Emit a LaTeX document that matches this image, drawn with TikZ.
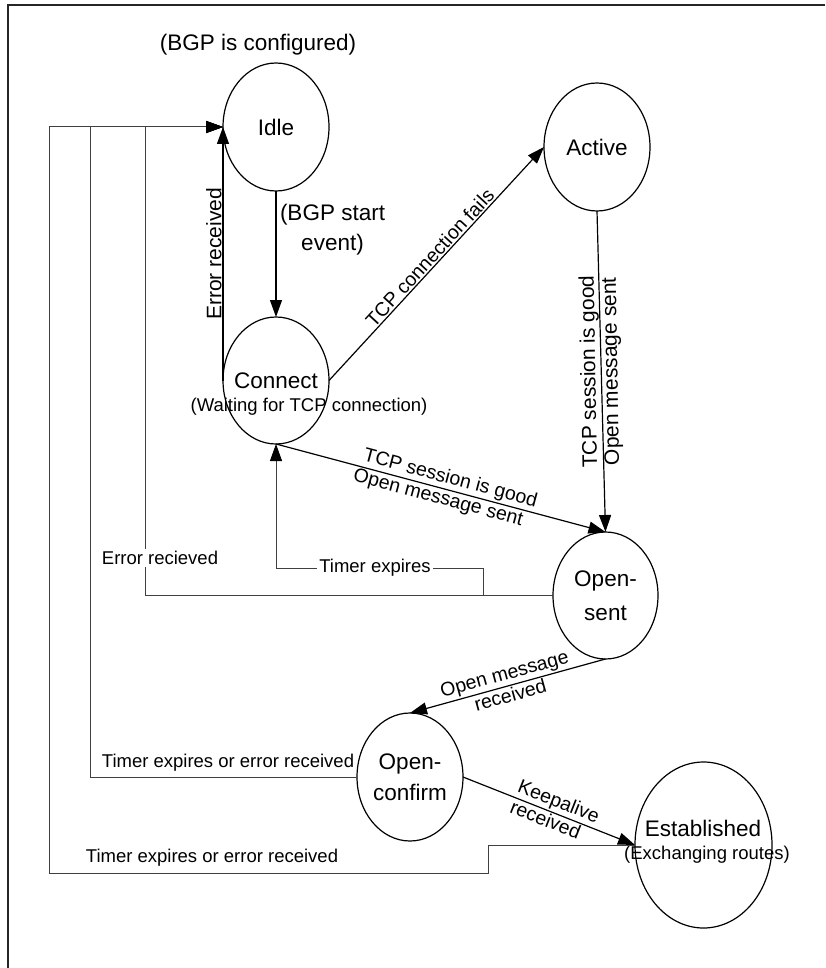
\documentclass[tikz,border=0pt]{standalone}
\usepackage{fontspec}
\setmainfont{Liberation Sans}
\usetikzlibrary{arrows.meta,shapes.geometric}
\newcommand{\ctext}[1]{\makebox[0pt]{#1}}
\begin{document}
\begin{tikzpicture}[x=1pt,y=-1pt,
  every node/.style={inner sep=0pt, outer sep=0pt},
  state/.style={draw, ellipse, line width=1.2pt, minimum width=106pt,
    minimum height=128pt, align=center, font=\fontsize{22.5}{32}\selectfont},
  tip/.style={-{Triangle[length=17pt,width=12pt,color=black]}},
  flow/.style={draw, line width=1.2pt, tip},
  back/.style={draw=black!75, line width=1pt},
  backarr/.style={back, tip},
  lbl/.style={font=\fontsize{19.5}{22}\selectfont, inner sep=2pt},
  vlbl/.style={font=\fontsize{21}{24}\selectfont, inner sep=1.5pt},
  note/.style={font=\fontsize{18.5}{22}\selectfont},
  cover/.style={note, fill=white, inner sep=2pt},
  frame/.style={draw=black!85, line width=2pt},
]
\useasboundingbox (0,0) rectangle (825,968);

% page frame (top and left edges)
\draw[frame] (825,5) -- (8,5) -- (8,968);

% states
\node[state] (idle) at (276,127) {\ctext{Idle}};
\node[state, minimum height=127pt] (connect) at (276,380.5) {\ctext{Connect}};
\node[state] (active) at (597,147) {\ctext{Active}};
\node[state, minimum width=105pt, minimum height=127pt,
  font=\fontsize{22.5}{34}\selectfont] (opensent) at (605.5,595.5)
  {\ctext{Open-}\\\ctext{sent}};
\node[state, font=\fontsize{22.5}{31}\selectfont] (openconfirm) at (410,777)
  {\ctext{Open-}\\\ctext{confirm}};
\node[state, minimum width=137pt, minimum height=166pt] (established) at (703.5,845) {};

% texts attached to states
\node[font=\fontsize{22.5}{26}\selectfont] (idlenote) at (258,45) {(BGP is configured)};
\node[note] (connectnote) at (309,407) {(Waiting for TCP connection)};
\node[font=\fontsize{22.5}{26}\selectfont] (estname) at (703,828) {Established};
\node[note] (estnote) at (707,855) {(Exchanging routes)};

% forward transitions
\draw[flow] (idle.south) -- node[pos=0.31, anchor=west, xshift=4pt, align=center,
  font=\fontsize{22.5}{30}\selectfont] {(BGP start\\event)} (connect.north);
\draw[flow] (connect.west) -- node[vlbl, pos=0.5, rotate=90, anchor=south]
  {Error received} (idle.west);
\draw[flow] (connect.east) -- node[lbl, sloped, above] {TCP connection fails} (active.west);
\draw[flow] (active.south) --
  node[vlbl, pos=0.5, rotate=91, anchor=south] {TCP session is good}
  node[vlbl, pos=0.5, rotate=91, anchor=north] {Open message sent}
  (opensent.north);
\draw[flow] (connect.south) --
  node[lbl, sloped, above, pos=0.52] {TCP session is good}
  node[lbl, sloped, below, pos=0.5] {Open message sent}
  (opensent.north);
\draw[flow] (opensent.south) --
  node[lbl, sloped, above] {Open message}
  node[lbl, sloped, below] {received}
  (openconfirm.north);
\draw[flow] (openconfirm.east) --
  node[lbl, sloped, above, pos=0.53] {Keepalive}
  node[lbl, sloped, below, pos=0.5] {received}
  (established.west);

% return paths
\coordinate (split) at (483,595.5);
\draw[backarr] (opensent.west) -| (145,127) -- (idle.west);
\draw[backarr] (split) |- (276,568) -- (connect.south);
\draw[backarr] (openconfirm.west) -| (90,127) -- (idle.west);
\draw[backarr] (established.west) -- (488,845) -- (488,873) -| (49,127) -- (idle.west);

% return path labels
\node[cover] (errlbl) at (160,558) {Error recieved};
\node[cover] (timerlbl) at (375,568) {Timer expires};
\node[note] (oclbl) at (228,763) {Timer expires or error received};
\node[note] (estlbl) at (212,858) {Timer expires or error received};
\end{tikzpicture}
\end{document}
